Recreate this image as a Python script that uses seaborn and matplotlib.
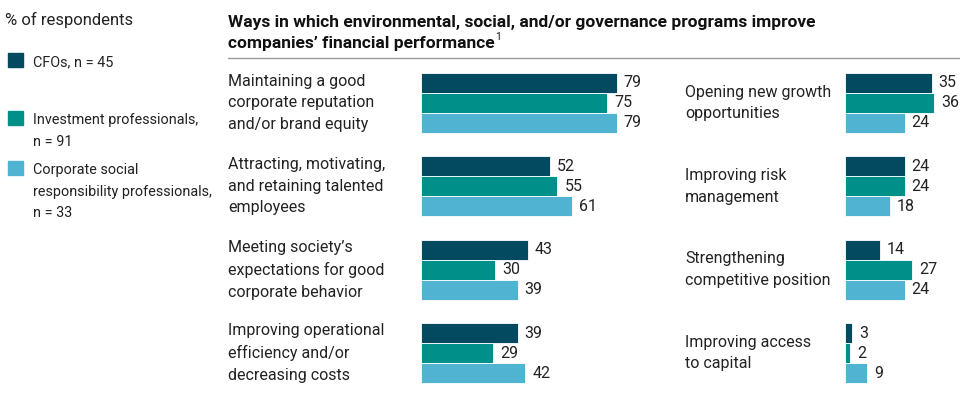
import pandas as pd
import seaborn as sns
import matplotlib.pyplot as plt
from matplotlib.lines import Line2D

# data (% of respondents)
groups = ['CFOs, n = 45', 'Investment professionals,\nn = 91',
          'Corporate social\nresponsibility professionals,\nn = 33']
colors = ['#034a60', '#00908a', '#50b3d1']

left_items = ['Maintaining a good\ncorporate reputation\nand/or brand equity',
              'Attracting, motivating,\nand retaining talented\nemployees',
              'Meeting society\u2019s\nexpectations for good\ncorporate behavior',
              'Improving operational\nefficiency and/or\ndecreasing costs']
left_cfo = [79, 52, 43, 39]
left_inv = [75, 55, 30, 29]
left_csr = [79, 61, 39, 42]

right_items = ['Opening new growth\nopportunities',
               'Improving risk\nmanagement',
               'Strengthening\ncompetitive position',
               'Improving access\nto capital']
right_cfo = [35, 24, 14, 3]
right_inv = [36, 24, 27, 2]
right_csr = [24, 18, 24, 9]


def to_long(items, cfo, inv, csr):
    rows = []
    for vals, g in zip([cfo, inv, csr], groups):
        for it, v in zip(items, vals):
            rows.append({'item': it, 'group': g, 'value': v})
    return pd.DataFrame(rows)


sns.set_theme(style='white')
plt.rcParams['font.family'] = ['Roboto', 'DejaVu Sans']

W, H = 960, 411
fig = plt.figure(figsize=(W / 100, H / 100), dpi=100)

px = 2.48  # pixels per percentage point
top, bottom = 61.3, 394.7


def add_panel(x0, xmax, items, cfo, inv, csr, pad):
    ax = fig.add_axes([x0 / W, (H - bottom) / H, xmax * px / W, (bottom - top) / H])
    df = to_long(items, cfo, inv, csr)
    sns.barplot(data=df, x='value', y='item', hue='group', palette=colors,
                saturation=1, width=0.72, edgecolor='white', linewidth=0.6,
                legend=False, ax=ax)
    ax.set_xlim(0, xmax)
    ax.set_ylim(3.5, -0.5)
    for c in ax.containers:
        ax.bar_label(c, padding=5, fontsize=11.5, color='#222222')
    ax.set_xlabel('')
    ax.set_ylabel('')
    ax.set_xticks([])
    ax.tick_params(axis='y', length=0, pad=pad, labelsize=11.5, labelcolor='#222222')
    for t in ax.get_yticklabels():
        t.set_ha('left')
        t.set_va('center')
        t.set_linespacing(1.55)
    for s in ax.spines.values():
        s.set_visible(False)
    ax.patch.set_alpha(0)
    return ax


add_panel(421, 100, left_items, left_cfo, left_inv, left_csr, (421 - 228) * 0.72)
add_panel(845, 46, right_items, right_cfo, right_inv, right_csr, (845 - 685) * 0.72)

# title (two lines, footnote mark after the second) and rule
title_kw = dict(ha='left', va='baseline', fontsize=12.5, fontweight='bold', color='#111111')
fig.text(228 / W, 1 - 27 / H,
         'Ways in which environmental, social, and/or governance programs improve',
         **title_kw)
t2 = fig.text(228 / W, 1 - 48 / H, 'companies\u2019 financial performance', **title_kw)
fig.canvas.draw()
bb = t2.get_window_extent()
fig.text((bb.x1 + 1) / W, 1 - 40 / H, '1', ha='left', va='baseline',
         fontsize=7.5, color='#111111')
fig.add_artist(Line2D([228 / W, 1.0], [1 - 58 / H, 1 - 58 / H],
                      color='#999999', linewidth=1))

# legend block
fig.text(5 / W, 1 - 20 / H, '% of respondents', ha='left', va='center',
         fontsize=12, color='#222222')
leg_y = [60, 118, 168]
text_y = [62, 120, 170]
for g, c, y, ty in zip(groups, colors, leg_y, text_y):
    fig.patches.append(plt.Rectangle((8 / W, 1 - (y + 7) / H), 15 / W, 14 / H,
                                     transform=fig.transFigure, color=c))
    fig.text(33 / W, 1 - (ty - 7) / H, g, ha='left', va='top', fontsize=10.4,
             color='#222222', linespacing=1.7)

fig.savefig('out.png', dpi=100)
